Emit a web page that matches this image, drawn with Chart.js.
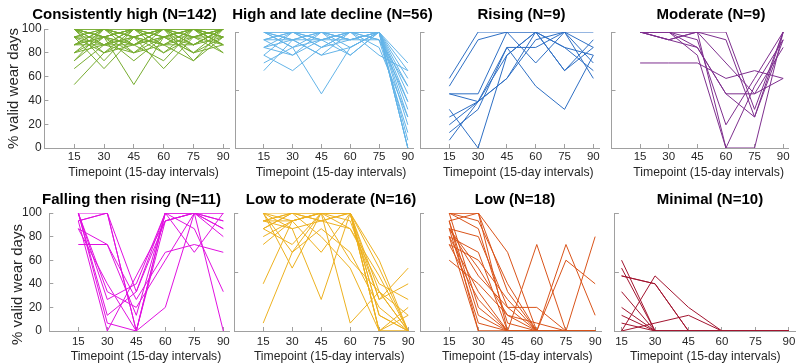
<!DOCTYPE html>
<html><head><meta charset="utf-8">
<script src="https://cdn.jsdelivr.net/npm/chart.js@4.4.1/dist/chart.umd.min.js"></script>
<style>
html,body{margin:0;padding:0;background:#fff;overflow:hidden;width:800px;height:364px;position:relative}
canvas{position:absolute}
</style></head>
<body>
<script>
// ---------- data ----------
const timepoints = [15, 30, 45, 60, 75, 90];
const xTickValues = [15, 30, 45, 60, 75, 90];
const yTickValues = [0, 20, 40, 60, 80, 100];
const yMidTicks = [0, 50, 100];
const xAxisTitle = 'Timepoint (15-day intervals)';
const yAxisTitle = '% valid wear days';
const panelTitles = ['Consistently high (N=142)', 'High and late decline (N=56)', 'Rising (N=9)', 'Moderate (N=9)',
  'Falling then rising (N=11)', 'Low to moderate (N=16)', 'Low (N=18)', 'Minimal (N=10)'];

const consistentlyHigh = [
  [100,100,100,100,100,100],[100,93.3,100,93.3,100,93.3],[93.3,100,93.3,100,93.3,100],
  [86.7,100,86.7,100,86.7,100],[100,86.7,100,86.7,100,86.7],[53.3,80,93.3,100,93.3,100],
  [93.3,66.7,93.3,100,100,93.3],[100,93.3,53.3,93.3,100,100],[100,100,93.3,66.7,93.3,100],
  [86.7,93.3,73.3,93.3,100,86.7],[73.3,100,100,86.7,73.3,100],[66.7,86.7,100,100,93.3,86.7],
  [80,93.3,100,80,100,93.3],[100,80,86.7,100,80,100],[93.3,93.3,80,93.3,93.3,80],
  [86.7,86.7,93.3,86.7,86.7,93.3],[100,100,86.7,73.3,100,100],[93.3,80,100,93.3,86.7,100],
  [80,100,93.3,100,100,86.7],[100,86.7,93.3,80,93.3,100],[86.7,100,100,93.3,80,86.7],
  [100,93.3,86.7,100,100,80],[73.3,93.3,86.7,93.3,100,100],[93.3,100,80,86.7,93.3,93.3],
  [100,73.3,100,100,86.7,100],[86.7,93.3,100,100,100,86.7],[93.3,86.7,86.7,93.3,80,93.3],
  [100,100,93.3,86.7,100,93.3],[80,86.7,80,100,86.7,100],[100,93.3,100,100,73.3,93.3]
];
const highLateDecline = [
  [100,100,100,100,100,73.3],[93.3,100,93.3,100,100,66.7],[86.7,93.3,100,93.3,100,60],
  [80,66.7,86.7,93.3,100,53.3],[73.3,86.7,46.7,86.7,100,46.7],[66.7,93.3,80,100,93.3,40],
  [100,86.7,93.3,80,100,33.3],[93.3,100,86.7,100,86.7,26.7],[100,93.3,100,86.7,100,20],
  [86.7,100,93.3,93.3,93.3,13.3],[100,100,86.7,100,100,6.7],[93.3,80,100,93.3,100,0],
  [80,100,100,93.3,100,0],[100,86.7,100,100,93.3,53.3],[93.3,93.3,80,86.7,100,26.7],
  [100,100,100,80,100,40],[86.7,80,93.3,100,100,0],[100,93.3,93.3,100,80,66.7]
];
const rising = [
  [60,100,100,100,100,100],[53.3,93.3,100,73.3,100,73.3],[46.7,40,86.7,86.7,100,86.7],
  [33.3,0,80,100,86.7,80],[26.7,40,60,100,66.7,93.3],[13.3,33.3,86.7,53.3,33.3,80],
  [6.7,40,60,93.3,100,60],[46.7,46.7,100,100,66.7,86.7],[20,40,80,100,86.7,66.7]
];
const moderate = [
  [100,100,100,100,33.3,100],[100,100,100,93.3,26.7,93.3],[100,93.3,100,73.3,46.7,86.7],
  [100,100,93.3,20,60,100],[73.3,73.3,73.3,60,66.7,60],[100,100,86.7,46.7,46.7,60],
  [100,93.3,100,0,0,100],[100,100,80,0,53.3,93.3],[100,93.3,86.7,46.7,26.7,100]
];
const fallingRising = [
  [100,100,33.3,100,100,100],[93.3,100,0,93.3,100,93.3],[86.7,73.3,13.3,100,100,86.7],
  [73.3,73.3,26.7,66.7,73.3,66.7],[100,26.7,40,100,100,80],[93.3,0,46.7,93.3,100,0],
  [100,6.7,0,100,86.7,33.3],[86.7,40,0,20,100,93.3],[100,33.3,20,60,100,100],
  [93.3,100,0,100,66.7,100],[100,13.3,33.3,93.3,100,86.7]
];
const lowToModerate = [
  [100,100,100,100,0,0],[93.3,100,93.3,100,13.3,0],[100,93.3,100,100,33.3,0],
  [86.7,100,100,100,60,0],[73.3,93.3,66.7,100,26.7,53.3],[40,93.3,100,100,0,13.3],
  [6.7,66.7,100,93.3,26.7,40],[100,53.3,100,6.7,33.3,0],[93.3,86.7,26.7,100,13.3,0],
  [86.7,100,93.3,86.7,40,26.7],[100,66.7,86.7,66.7,20,0],[93.3,100,80,53.3,0,20],
  [80,93.3,100,86.7,46.7,0],[100,86.7,93.3,100,0,0],[86.7,73.3,100,60,33.3,13.3],
  [93.3,93.3,100,100,53.3,0]
];
const low = [
  [100,100,66.7,0,0,0],[100,100,33.3,0,0,0],[93.3,100,0,0,0,0],[86.7,80,20,0,0,0],
  [86.7,46.7,20,20,0,0],[80,33.3,0,73.3,0,0],[73.3,26.7,0,0,73.3,13.3],[60,40,13.3,0,60,40],
  [100,20,0,0,0,80],[93.3,13.3,0,0,0,0],[86.7,6.7,0,0,0,0],[80,0,0,0,0,0],
  [100,93.3,40,0,0,0],[93.3,0,0,0,0,0],[86.7,53.3,13.3,6.7,0,0],[73.3,60,26.7,0,0,0],
  [100,86.7,6.7,0,0,0],[80,66.7,0,0,0,0]
];
const minimal = [
  [60,0,0,0,0,0],[53.3,0,0,0,0,0],[46.7,40,0,0,0,0],[33.3,0,0,0,0,0],[20,0,0,0,0,0],
  [13.3,0,0,0,0,0],[6.7,0,0,0,0,0],[0,46.7,20,0,0,0],[0,6.7,13.3,0,0,0],[46.7,40,0,0,0,0]
];
const panelSeries = [consistentlyHigh, highLateDecline, rising, moderate, fallingRising, lowToModerate, low, minimal];

// ---------- styles / layout ----------
const panelColors = ['#77AC30', '#64B4E8', '#2E6FC4', '#7E2F8E', '#E011E0', '#EDB120', '#D95319', '#A2142F'];
const axisColor = '#a0a0a0';
const tickColor = '#262626';
const fontFamily = '"Liberation Sans", Arial, Helvetica, sans-serif';
// xShift: leading spaces to nudge the x-axis title; yShift: trailing spaces to nudge the y-axis title
const layoutSpec = [
  {left:0,   top:0,   width:249, height:180, yW:44.4, rW:19.8, tPT:6, tPB:5, xH:32, xPad:6, xmin:0,  xmax:93, xShift:4, labels:true, yTitlePad:5, yTickPad:6.7, yShift:0},
  {left:230, top:0,   width:205, height:180, yW:5,    rW:21.4, tPT:6, tPB:8, xH:32, xPad:6, xmin:0,  xmax:93, xShift:4},
  {left:415, top:0,   width:213, height:180, yW:5.5,  rW:28.9, tPT:6, tPB:8, xH:32, xPad:6, xmin:0,  xmax:93, xShift:5},
  {left:606, top:0,   width:210, height:180, yW:5.5,  rW:27.1, tPT:6, tPB:8, xH:32, xPad:6, xmin:0,  xmax:93, xShift:5},
  {left:0,   top:182, width:263, height:182, yW:49.3, rW:33.9, tPT:9, tPB:4, xH:33, xPad:8, xmin:0,  xmax:93, xShift:4, labels:true, yTitlePad:9, yTickPad:11.3, yShift:6},
  {left:229, top:182, width:204, height:182, yW:5.2,  rW:19,   tPT:9, tPB:4, xH:33, xPad:8, xmin:0,  xmax:93, xShift:3},
  {left:415, top:182, width:200, height:182, yW:5,    rW:14,   tPT:9, tPB:4, xH:33, xPad:8, xmin:0,  xmax:93, xShift:4},
  {left:607, top:182, width:206, height:182, yW:5,    rW:17.4, tPT:9, tPB:4, xH:33, xPad:8, xmin:12, xmax:93, xShift:0}
];

panelSeries.forEach((series, p) => {
  const L = layoutSpec[p];
  const cv = document.createElement('canvas');
  cv.width = L.width; cv.height = L.height;
  cv.style.left = L.left + 'px'; cv.style.top = L.top + 'px';
  cv.style.width = L.width + 'px'; cv.style.height = L.height + 'px';
  document.body.appendChild(cv);
  new Chart(cv.getContext('2d'), {
    type: 'line',
    data: {
      datasets: series.map(s => ({
        data: s.map((v, i) => ({x: timepoints[i], y: v})),
        borderColor: panelColors[p], borderWidth: 1, pointRadius: 0, fill: false, tension: 0
      }))
    },
    options: {
      responsive: false, animation: false, events: [], devicePixelRatio: 1,
      layout: {padding: 0, autoPadding: false},
      plugins: {
        legend: {display: false}, tooltip: {enabled: false},
        title: {display: true, text: panelTitles[p], color: '#000', fullSize: true,
          font: {family: fontFamily, size: 15, weight: 'bold'}, padding: {top: L.tPT, bottom: L.tPB}}
      },
      scales: {
        x: {
          type: 'linear', position: 'bottom', min: L.xmin, max: L.xmax,
          afterBuildTicks: s => { s.ticks = xTickValues.map(v => ({value: v})); },
          afterFit: s => { s.height = L.xH; },
          grid: {drawOnChartArea: false, tickLength: -4, color: axisColor, lineWidth: 1},
          border: {color: axisColor, width: 1},
          ticks: {color: tickColor, font: {family: fontFamily, size: 11.5}, padding: L.xPad, maxRotation: 0, autoSkip: false},
          title: {display: true, text: ' '.repeat(L.xShift) + xAxisTitle, color: tickColor,
            font: {family: fontFamily, size: 12.2}, padding: {top: 0, bottom: 0.5}}
        },
        y: {
          type: 'linear', position: 'left', min: 0, max: 100,
          afterBuildTicks: s => { s.ticks = (L.labels ? yTickValues : yMidTicks).map(v => ({value: v})); },
          afterFit: s => { s.width = L.yW; },
          grid: {drawOnChartArea: false, tickLength: -4, color: axisColor, lineWidth: 1},
          border: {color: axisColor, width: 1},
          ticks: {display: !!L.labels, color: tickColor, font: {family: fontFamily, size: 12}, padding: L.yTickPad || 0},
          title: {display: !!L.labels, text: yAxisTitle + ' '.repeat(L.yShift || 0), color: tickColor,
            font: {family: fontFamily, size: 15}, padding: {top: L.yTitlePad || 0, bottom: 0}}
        },
        r: {
          type: 'linear', position: 'right', display: true,
          afterFit: s => { s.width = L.rW; },
          grid: {display: false}, border: {display: false}, ticks: {display: false}
        }
      }
    }
  });
});
</script>
</body></html>
